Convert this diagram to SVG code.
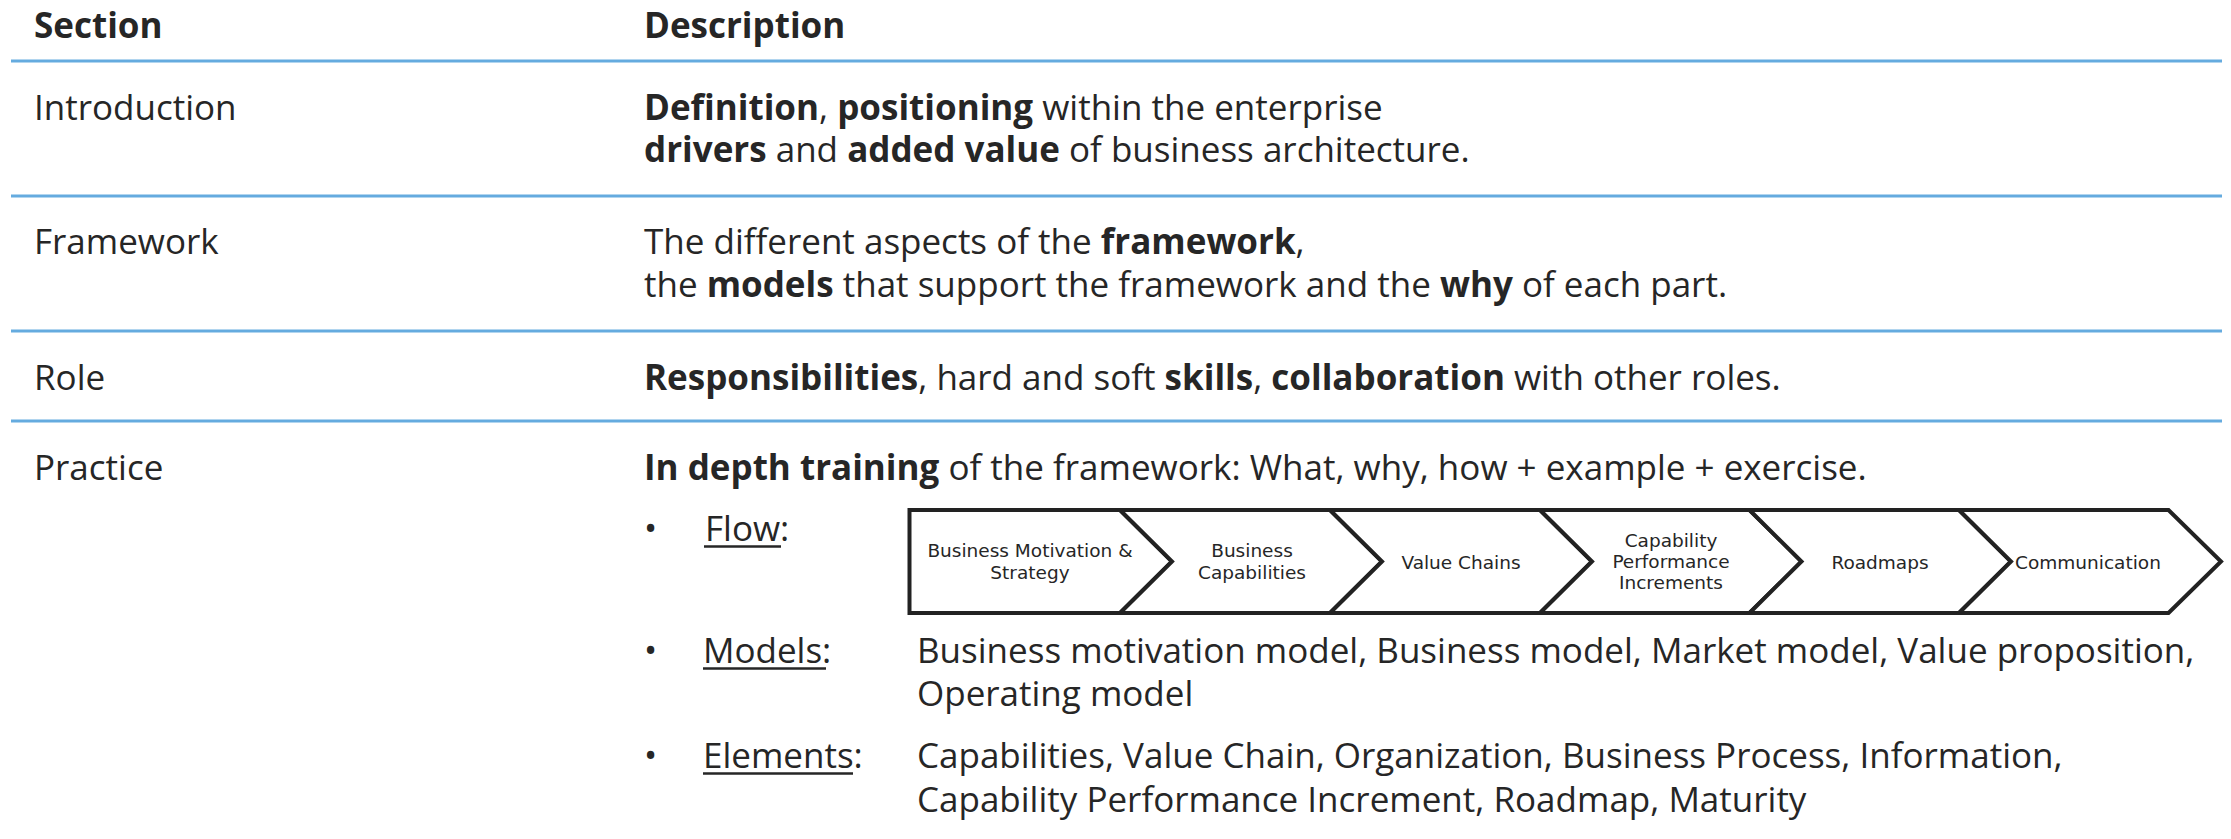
<svg xmlns="http://www.w3.org/2000/svg" width="2231" height="839" viewBox="0 0 2231 839">
<style>
.t{font-family:"Open Sans","Noto Sans","DejaVu Sans",sans-serif;font-size:35px;fill:#262626}
.b{font-weight:bold}
.ul{stroke:#262626;stroke-width:2.6}
.div{stroke:#65ABDF;stroke-width:3;fill:none}
.chev{fill:#fff;stroke:#222;stroke-width:4;stroke-linejoin:miter}
.ct{font-family:"DejaVu Sans","Liberation Sans",sans-serif;font-size:18.5px;fill:#262626;text-anchor:middle}
</style>
<rect width="2231" height="839" fill="#fff"/>
<g id="header">
<text class="t b" x="34" y="38">Section</text>
<text class="t b" x="644" y="38">Description</text>
</g>
<g id="dividers">
<line class="div" x1="11" y1="61" x2="2222" y2="61"/>
<line class="div" x1="11" y1="196" x2="2222" y2="196"/>
<line class="div" x1="11" y1="331" x2="2222" y2="331"/>
<line class="div" x1="11" y1="421" x2="2222" y2="421"/>
</g>
<g id="row-introduction">
<text class="t" x="34" y="120">Introduction</text>
<text class="t" x="644" y="120"><tspan class="b">Definition</tspan>, <tspan class="b">positioning</tspan> within the enterprise</text>
<text class="t" x="644" y="162"><tspan class="b">drivers</tspan> and <tspan class="b">added value</tspan> of business architecture.</text>
</g>
<g id="row-framework">
<text class="t" x="34" y="254">Framework</text>
<text class="t" x="644" y="254">The different aspects of the <tspan class="b">framework</tspan>,</text>
<text class="t" x="644" y="297">the <tspan class="b">models</tspan> that support the framework and the <tspan class="b">why</tspan> of each part.</text>
</g>
<g id="row-role">
<text class="t" x="34" y="390">Role</text>
<text class="t" x="644" y="390"><tspan class="b">Responsibilities</tspan>, hard and soft <tspan class="b">skills</tspan>, <tspan class="b">collaboration</tspan> with other roles.</text>
</g>
<g id="row-practice">
<text class="t" x="34" y="480">Practice</text>
<text class="t" x="644" y="480"><tspan class="b">In depth training</tspan> of the framework: What, why, how + example + exercise.</text>
<text class="t" x="644" y="541">•</text>
<text class="t" x="705" y="541">Flow:</text>
<line class="ul" x1="704" y1="546.5" x2="781" y2="546.5"/>
<text class="t" x="644" y="663">•</text>
<text class="t" x="703" y="663">Models:</text>
<line class="ul" x1="703" y1="668.5" x2="826" y2="668.5"/>
<text class="t" x="917" y="663">Business motivation model, Business model, Market model, Value proposition,</text>
<text class="t" x="917" y="706">Operating model</text>
<text class="t" x="644" y="768">•</text>
<text class="t" x="703" y="768">Elements:</text>
<line class="ul" x1="703" y1="773.5" x2="853" y2="773.5"/>
<text class="t" x="917" y="768">Capabilities, Value Chain, Organization, Business Process, Information,</text>
<text class="t" x="917" y="812">Capability Performance Increment, Roadmap, Maturity</text>
</g>
<g id="flow">
<g id="chev1"><path class="chev" d="M909.5,510 L1120,510 L1172,561.5 L1120,613 L909.5,613 Z"/>
<text class="ct" x="1030" y="557">Business Motivation &amp;</text><text class="ct" x="1030" y="579">Strategy</text></g>
<g id="chev2"><path class="chev" d="M1120,510 L1330,510 L1382,561.5 L1330,613 L1120,613 L1172,561.5 Z"/>
<text class="ct" x="1252" y="557">Business</text><text class="ct" x="1252" y="579">Capabilities</text></g>
<g id="chev3"><path class="chev" d="M1330,510 L1540,510 L1592,561.5 L1540,613 L1330,613 L1382,561.5 Z"/>
<text class="ct" x="1461" y="569">Value Chains</text></g>
<g id="chev4"><path class="chev" d="M1540,510 L1749.5,510 L1801.5,561.5 L1749.5,613 L1540,613 L1592,561.5 Z"/>
<text class="ct" x="1671" y="547">Capability</text><text class="ct" x="1671" y="568">Performance</text><text class="ct" x="1671" y="589">Increments</text></g>
<g id="chev5"><path class="chev" d="M1749.5,510 L1959,510 L2011,561.5 L1959,613 L1749.5,613 L1801.5,561.5 Z"/>
<text class="ct" x="1880" y="569">Roadmaps</text></g>
<g id="chev6"><path class="chev" d="M1959,510 L2168.5,510 L2221,561.5 L2168.5,613 L1959,613 L2011,561.5 Z"/>
<text class="ct" x="2088" y="569">Communication</text></g>
</g>
</svg>
